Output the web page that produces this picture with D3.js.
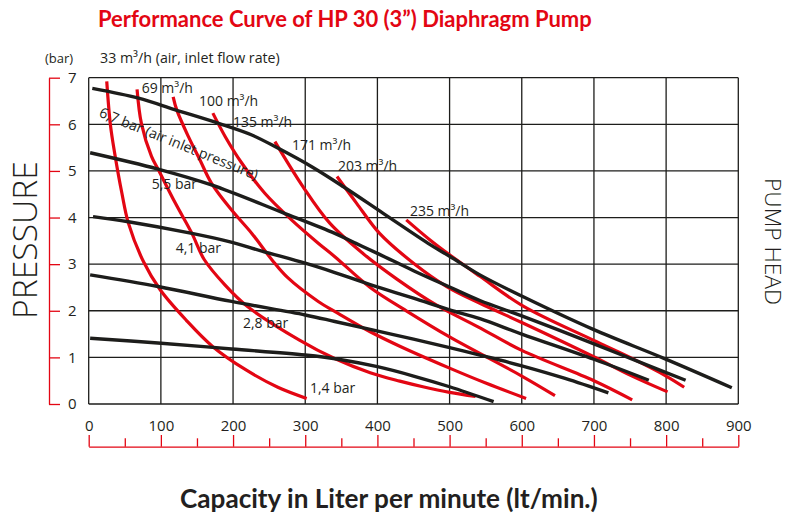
<!DOCTYPE html>
<html>
<head>
<meta charset="utf-8">
<script src="https://cdn.jsdelivr.net/npm/d3@7"></script>
<style>
  html, body { margin: 0; padding: 0; background: #fff; }
  svg { display: block; }
  text { font-family: "Open Sans", "DejaVu Sans", sans-serif; fill: #231f20; }
</style>
</head>
<body>
<svg id="chart" width="792" height="518"></svg>
<script>
// ---- data ----
const xTicks = [0, 100, 200, 300, 400, 500, 600, 700, 800, 900];
const xMinorTicks = [50, 150, 250, 350, 450, 550, 650, 750, 850];
const yTicks = [0, 1, 2, 3, 4, 5, 6, 7];

// air inlet pressure curves (black): [capacity lt/min, pressure bar]
const press67 = [[5,6.77],[69,6.56],[120,6.31],[180,6.02],[226,5.77],[262,5.49],[309,5.09],[353,4.66],[408,4.09],[473,3.42],[500,3.17],[542,2.77],[602,2.3],[699,1.6],[797,0.98],[891,0.35]];
const press55 = [[2,5.39],[96,5.04],[170,4.70],[268,4.11],[341,3.66],[371,3.44],[403,3.21],[450,2.86],[500,2.51],[542,2.22],[600,1.89],[700,1.29],[760,0.92],[827,0.51]];
const press41 = [[6,4.02],[55,3.91],[143,3.66],[196,3.48],[240,3.28],[300,3.02],[341,2.82],[390,2.56],[450,2.27],[500,2.02],[542,1.83],[600,1.5],[700,0.96],[776,0.51]];
const press28 = [[2,2.77],[96,2.52],[198,2.2],[300,1.91],[341,1.77],[390,1.6],[450,1.39],[500,1.21],[542,1.05],[600,0.82],[660,0.55],[720,0.24]];
const press14 = [[2,1.41],[96,1.31],[198,1.18],[300,1.05],[350,0.95],[400,0.8],[450,0.6],[500,0.37],[561,0.05]];

// air consumption curves (red)
const air33  = [[25,6.92],[30,6.0],[36,5.38],[46,4.52],[55,3.88],[76,3.05],[99,2.45],[135,1.8],[172,1.23],[218,0.73],[262,0.36],[302,0.12]];
const air69  = [[67,6.75],[73,6.02],[87,5.31],[96,5.04],[120,4.31],[143,3.66],[160,3.1],[189,2.55],[220,2.09],[292,1.37],[340,0.98],[390,0.67],[431,0.49],[463,0.37],[500,0.25],[536,0.16]];
const air100 = [[117,6.59],[122,6.31],[138,5.74],[154,5.24],[170,4.74],[198,4.16],[226,3.66],[254,3.09],[275,2.72],[318,2.2],[345,1.95],[390,1.55],[431,1.24],[500,0.77],[550,0.45],[606,0.12]];
const air135 = [[172,6.24],[189,5.74],[212,5.17],[244,4.52],[281,3.95],[318,3.45],[341,3.16],[390,2.5],[440,2.0],[500,1.44],[600,0.6],[646,0.18]];
const air171 = [[258,5.63],[297,4.66],[334,3.88],[380,3.23],[427,2.68],[482,2.12],[540,1.65],[600,1.15],[700,0.5],[753,0.09]];
const air203 = [[344,4.88],[371,4.31],[403,3.66],[450,3.02],[496,2.52],[542,2.16],[600,1.75],[699,1.02],[750,0.62],[802,0.26]];
const air235 = [[440,3.95],[472,3.53],[500,3.2],[542,2.74],[602,2.1],[699,1.37],[750,1.0],[800,0.6],[825,0.36]];

const pressureSeries = [press67, press55, press41, press28, press14];
const airSeries = [air33, air69, air100, air135, air171, air203, air235];

const airLabels = ["69 m³/h", "100 m³/h", "135 m³/h", "171 m³/h", "203 m³/h", "235 m³/h"];
const pressureLabels = ["5,5 bar", "4,1 bar", "2,8 bar", "1,4 bar"];

const titleText = "Performance Curve of HP 30 (3\u201D) Diaphragm Pump";
const xTitle = "Capacity in Liter per minute (lt/min.)";
const yTitle = "PRESSURE";
const y2Title = "PUMP HEAD";
const unitText = "(bar)";
const airNote = "33 m³/h (air, inlet flow rate)";
const topPressLabel = "6,7 bar (air inlet pressure)";

// ---- drawing ----
const RED = "#e30613";
const INK = "#1d1d1b";
const svg = d3.select("#chart");
svg.append("rect").attr("width", 792).attr("height", 518).attr("fill", "#fff");

const x = d3.scaleLinear().domain([0, 900]).range([88.7, 738.3]);
const y = d3.scaleLinear().domain([0, 7]).range([404, 77.7]);

function fit(sel, target) {
  const fs = parseFloat(sel.style("font-size"));
  const w = sel.node().getComputedTextLength();
  if (w > 0) sel.style("font-size", (fs * target / w) + "px");
  return sel;
}

// grid
const grid = svg.append("g");
grid.selectAll("line.v").data(xTicks).join("line")
  .attr("x1", d => x(d)).attr("x2", d => x(d))
  .attr("y1", y(0)).attr("y2", y(7))
  .attr("stroke", INK).attr("stroke-width", 1.3);
grid.selectAll("line.h").data(yTicks).join("line")
  .attr("x1", x(0)).attr("x2", x(900))
  .attr("y1", d => y(d)).attr("y2", d => y(d))
  .attr("stroke", INK).attr("stroke-width", 1.3);

// left axis (red)
const yAxis = svg.append("g").attr("transform", "translate(49,0)")
  .call(d3.axisRight(y).tickValues(yTicks).tickSize(11).tickSizeOuter(0).tickPadding(8).tickFormat(d3.format("d")));
yAxis.select(".domain").attr("stroke", RED).attr("stroke-width", 1.3);
yAxis.selectAll(".tick line").attr("stroke", RED).attr("stroke-width", 1.3);
yAxis.selectAll(".tick text").style("font-size", "15px").style("font-family", "Open Sans").attr("fill", INK);

// bottom axis (red, ticks pointing up, labels above)
const xAxis = svg.append("g").attr("transform", "translate(0,446.7)")
  .call(d3.axisTop(x).tickValues(xTicks).tickSize(11.7).tickSizeOuter(0).tickPadding(4).tickFormat(d3.format("d")));
xAxis.select(".domain").attr("stroke", RED).attr("stroke-width", 1.3);
xAxis.selectAll(".tick line").attr("stroke", RED).attr("stroke-width", 1.3);
xAxis.selectAll(".tick text").style("font-size", "15px").style("font-family", "Open Sans").attr("fill", INK);
const xMinor = svg.append("g").attr("transform", "translate(0,446.7)")
  .call(d3.axisTop(x).tickValues(xMinorTicks).tickSize(8.4).tickSizeOuter(0).tickFormat(""));
xMinor.select(".domain").remove();
xMinor.selectAll(".tick line").attr("stroke", RED).attr("stroke-width", 1.3);

// curves
const line = d3.line().x(d => x(d[0])).y(d => y(d[1])).curve(d3.curveCatmullRom.alpha(0.5));
svg.append("g").selectAll("path").data(airSeries).join("path")
  .attr("d", line).attr("fill", "none").attr("stroke", RED).attr("stroke-width", 3.2)
  .attr("stroke-linecap", "butt");
svg.append("g").selectAll("path").data(pressureSeries).join("path")
  .attr("d", line).attr("fill", "none").attr("stroke", INK).attr("stroke-width", 3.4)
  .attr("stroke-linecap", "butt");

// curve labels
const airLabelPos = [[73.4, 6.77], [152.8, 6.49], [199.9, 6.05], [281.6, 5.56], [345.3, 5.11], [445, 4.13]];
svg.append("g").selectAll("text").data(airLabels).join("text")
  .attr("x", (d, i) => x(airLabelPos[i][0])).attr("y", (d, i) => y(airLabelPos[i][1]))
  .attr("dy", "0.35em").style("font-size", "14px").text(d => d);

const pressLabelPos = [[87.3, 4.72], [120.5, 3.34], [213.7, 1.73], [306.5, 0.34]];
svg.append("g").selectAll("text").data(pressureLabels).join("text")
  .attr("x", (d, i) => x(pressLabelPos[i][0])).attr("y", (d, i) => y(pressLabelPos[i][1]))
  .attr("dy", "0.35em").style("font-size", "14px").text(d => d);

const tp = svg.append("text")
  .attr("transform", `translate(${x(15.7)},${y(6.27)}) rotate(22)`)
  .attr("dy", "0.35em").style("font-size", "14px").text(topPressLabel);
fit(tp, 170);

// top notes
svg.append("text").attr("x", 45).attr("y", 63).style("font-size", "13px").text(unitText);
const an = svg.append("text").attr("x", 100).attr("y", 63).style("font-size", "13px").text(airNote);
fit(an, 180);

// title
const t = svg.append("text").attr("x", 98).attr("y", 26.5)
  .style("font-family", "Lato, 'Open Sans', sans-serif").style("font-weight", "bold")
  .style("font-size", "20px").attr("fill", RED).style("fill", RED).text(titleText);
fit(t, 494);

// x title
const xt = svg.append("text").attr("x", 180).attr("y", 508)
  .style("font-family", "Lato, 'Open Sans', sans-serif").style("font-weight", "bold")
  .style("font-size", "24px").text(xTitle);
fit(xt, 418);

// y titles
const yt = svg.append("text").attr("transform", "translate(37,240) rotate(-90)")
  .attr("text-anchor", "middle").style("font-weight", "300").style("font-size", "34px").text(yTitle);
fit(yt, 158);
const y2t = svg.append("text").attr("transform", "translate(765,241.5) rotate(90)")
  .attr("text-anchor", "middle").style("font-weight", "300").style("font-size", "23px").text(y2Title);
fit(y2t, 127);
</script>
</body>
</html>
